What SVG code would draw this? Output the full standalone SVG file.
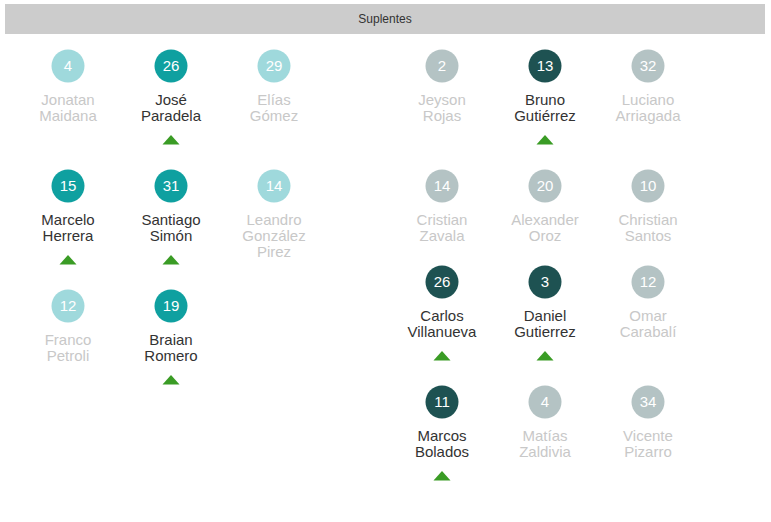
<svg xmlns="http://www.w3.org/2000/svg" width="771" height="522" viewBox="0 0 771 522">
<style>
text{font-family:"Liberation Sans",Arial,sans-serif;text-anchor:middle}
.num{font-size:15px;fill:#fff}
.nm{font-size:15px}
.on{fill:#333}
.off{fill:#c8c8c8}
.c1{fill:#9fd9dc}
.c2{fill:#0fa0a0}
.c3{fill:#b4c3c4}
.c4{fill:#1e5252}
.up{fill:#3a9c25}
</style>
<defs>
<path id="tri" d="M-8.5,9.5 L0,0 L8.5,9.5 Z" class="up"/>
</defs>
<rect x="5" y="4" width="760" height="30" fill="#cccccc"/>
<text x="385" y="23" style="font-size:12px" fill="#333">Suplentes</text>

<g id="p4"><circle cx="68" cy="66" r="16.5" class="c1"/><text x="68" y="71" class="num">4</text><text x="68" y="105" class="nm off">Jonatan</text><text x="68" y="121" class="nm off">Maidana</text></g>
<g id="p26a"><circle cx="171" cy="66" r="16.5" class="c2"/><text x="171" y="71" class="num">26</text><text x="171" y="105" class="nm on">José</text><text x="171" y="121" class="nm on">Paradela</text><use href="#tri" x="171" y="135"/></g>
<g id="p29"><circle cx="274" cy="66" r="16.5" class="c1"/><text x="274" y="71" class="num">29</text><text x="274" y="105" class="nm off">Elías</text><text x="274" y="121" class="nm off">Gómez</text></g>

<g id="p15"><circle cx="68" cy="186" r="16.5" class="c2"/><text x="68" y="191" class="num">15</text><text x="68" y="225" class="nm on">Marcelo</text><text x="68" y="241" class="nm on">Herrera</text><use href="#tri" x="68" y="255"/></g>
<g id="p31"><circle cx="171" cy="186" r="16.5" class="c2"/><text x="171" y="191" class="num">31</text><text x="171" y="225" class="nm on">Santiago</text><text x="171" y="241" class="nm on">Simón</text><use href="#tri" x="171" y="255"/></g>
<g id="p14a"><circle cx="274" cy="186" r="16.5" class="c1"/><text x="274" y="191" class="num">14</text><text x="274" y="225" class="nm off">Leandro</text><text x="274" y="241" class="nm off">González</text><text x="274" y="257" class="nm off">Pirez</text></g>

<g id="p12a"><circle cx="68" cy="306" r="16.5" class="c1"/><text x="68" y="311" class="num">12</text><text x="68" y="345" class="nm off">Franco</text><text x="68" y="361" class="nm off">Petroli</text></g>
<g id="p19"><circle cx="171" cy="306" r="16.5" class="c2"/><text x="171" y="311" class="num">19</text><text x="171" y="345" class="nm on">Braian</text><text x="171" y="361" class="nm on">Romero</text><use href="#tri" x="171" y="375"/></g>

<g id="p2"><circle cx="442" cy="66" r="16.5" class="c3"/><text x="442" y="71" class="num">2</text><text x="442" y="105" class="nm off">Jeyson</text><text x="442" y="121" class="nm off">Rojas</text></g>
<g id="p13"><circle cx="545" cy="66" r="16.5" class="c4"/><text x="545" y="71" class="num">13</text><text x="545" y="105" class="nm on">Bruno</text><text x="545" y="121" class="nm on">Gutiérrez</text><use href="#tri" x="545" y="135"/></g>
<g id="p32"><circle cx="648" cy="66" r="16.5" class="c3"/><text x="648" y="71" class="num">32</text><text x="648" y="105" class="nm off">Luciano</text><text x="648" y="121" class="nm off">Arriagada</text></g>

<g id="p14b"><circle cx="442" cy="186" r="16.5" class="c3"/><text x="442" y="191" class="num">14</text><text x="442" y="225" class="nm off">Cristian</text><text x="442" y="241" class="nm off">Zavala</text></g>
<g id="p20"><circle cx="545" cy="186" r="16.5" class="c3"/><text x="545" y="191" class="num">20</text><text x="545" y="225" class="nm off">Alexander</text><text x="545" y="241" class="nm off">Oroz</text></g>
<g id="p10"><circle cx="648" cy="186" r="16.5" class="c3"/><text x="648" y="191" class="num">10</text><text x="648" y="225" class="nm off">Christian</text><text x="648" y="241" class="nm off">Santos</text></g>

<g id="p26b"><circle cx="442" cy="282" r="16.5" class="c4"/><text x="442" y="287" class="num">26</text><text x="442" y="321" class="nm on">Carlos</text><text x="442" y="337" class="nm on">Villanueva</text><use href="#tri" x="442" y="351"/></g>
<g id="p3"><circle cx="545" cy="282" r="16.5" class="c4"/><text x="545" y="287" class="num">3</text><text x="545" y="321" class="nm on">Daniel</text><text x="545" y="337" class="nm on">Gutierrez</text><use href="#tri" x="545" y="351"/></g>
<g id="p12b"><circle cx="648" cy="282" r="16.5" class="c3"/><text x="648" y="287" class="num">12</text><text x="648" y="321" class="nm off">Omar</text><text x="648" y="337" class="nm off">Carabalí</text></g>

<g id="p11"><circle cx="442" cy="402" r="16.5" class="c4"/><text x="442" y="407" class="num">11</text><text x="442" y="441" class="nm on">Marcos</text><text x="442" y="457" class="nm on">Bolados</text><use href="#tri" x="442" y="471"/></g>
<g id="p4b"><circle cx="545" cy="402" r="16.5" class="c3"/><text x="545" y="407" class="num">4</text><text x="545" y="441" class="nm off">Matías</text><text x="545" y="457" class="nm off">Zaldivia</text></g>
<g id="p34"><circle cx="648" cy="402" r="16.5" class="c3"/><text x="648" y="407" class="num">34</text><text x="648" y="441" class="nm off">Vicente</text><text x="648" y="457" class="nm off">Pizarro</text></g>
<g id="connectors"/>
</svg>
